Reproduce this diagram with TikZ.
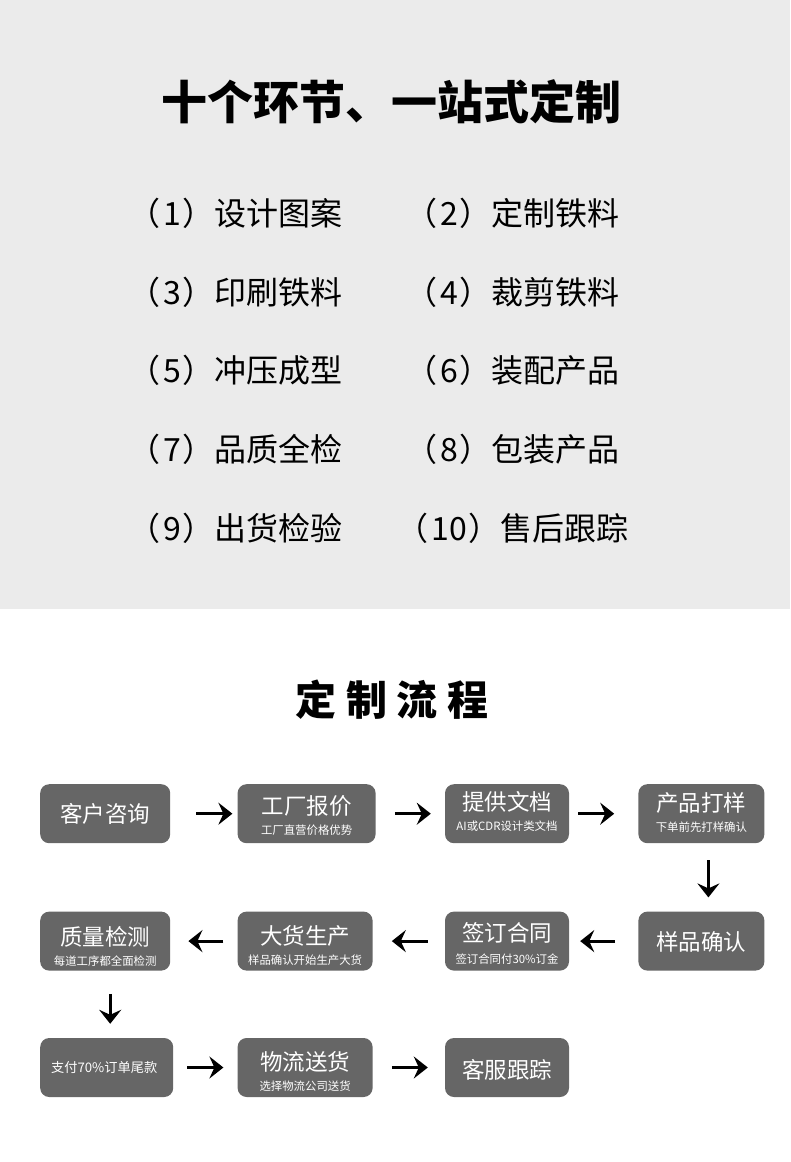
\documentclass[tikz,border=0pt]{standalone}
\usepackage{fontspec}
\setmainfont{Noto Sans CJK SC}
\usepackage{xcolor}
\usetikzlibrary{positioning, arrows.meta}
\definecolor{bandgray}{HTML}{EBEBEB}
\definecolor{boxgray}{HTML}{666666}
\newcommand{\subsize}{\fontsize{11.4}{14}\selectfont}
\newcommand{\stepno}[1]{（\kern3pt #1\kern1.5pt）}
\tikzset{
    flowbox/.style={draw=none, fill=boxgray, text=white, rounded corners=9pt, inner sep=0pt, minimum height=59pt, align=center, font=\fontsize{22.5}{20}\selectfont},
    textdrop/.style={text height=#1, text depth=0pt},
    flowarrow/.style={line width=3.2pt, -{Stealth[length=14pt, width=22pt, inset=5pt]}},
    listitem/.style={inner sep=0pt, minimum height=32pt, font=\fontsize{32}{32}\selectfont},
    headline/.style={inner sep=0pt, font=\bfseries\fontsize{46}{46}\selectfont}
}
\begin{document}
\begin{tikzpicture}[x=1pt, y=1pt]

    \useasboundingbox (0,0) rectangle (790,-1162);

    % Gray band at the top
    \fill[bandgray] (0,0) rectangle (790,-609);

    \node[headline] (title) at (391,-102) {十个环节、一站式定制};

    % Ten steps in two columns
    \node[listitem, anchor=west] (item1) at (128,-213.5) {\stepno{1}设计图案};
    \node[listitem, right=62.2pt of item1] (item2) {\stepno{2}定制铁料};
    \node[listitem, below=46.2pt of item1] (item3) {\stepno{3}印刷铁料};
    \node[listitem, right=62.2pt of item3] (item4) {\stepno{4}裁剪铁料};
    \node[listitem, below=46.2pt of item3] (item5) {\stepno{5}冲压成型};
    \node[listitem, right=62.2pt of item5] (item6) {\stepno{6}装配产品};
    \node[listitem, below=46.2pt of item5] (item7) {\stepno{7}品质全检};
    \node[listitem, right=62.2pt of item7] (item8) {\stepno{8}包装产品};
    \node[listitem, below=46.2pt of item7] (item9) {\stepno{9}出货检验};
    \node[listitem, right=54pt of item9] (item10) {\stepno{10}售后跟踪};

    \node[headline, font=\bfseries\fontsize{41}{41}\selectfont] (flowtitle) at (392,-700) {定 制 流 程};

    % First row, left to right
    \node[flowbox, textdrop=18pt, minimum width=130pt, anchor=north west] (kehu) at (40,-784) {客户咨询};
    \node[flowbox, textdrop=42pt, minimum width=138pt, right=67pt of kehu] (baojia) {工厂报价\\{\subsize 工厂直营价格优势}};
    \node[flowbox, textdrop=34pt, minimum width=124pt, right=69pt of baojia] (wendang) {提供文档\\{\subsize AI或CDR设计类文档}};
    \node[flowbox, textdrop=36pt, minimum width=126pt, right=69pt of wendang] (dayang) {产品打样\\{\subsize 下单前先打样确认}};

    % Second row, read right to left
    \node[flowbox, textdrop=48pt, minimum width=130pt, below=68pt of kehu] (zhiliang) {质量检测\\{\subsize 每道工序都全面检测}};
    \node[flowbox, textdrop=46pt, minimum width=135pt, right=67pt of zhiliang] (dahuo) {大货生产\\{\subsize 样品确认开始生产大货}};
    \node[flowbox, textdrop=44pt, minimum width=124pt, right=72pt of dahuo] (qianding) {签订合同\\[2pt]{\subsize 签订合同付30\%订金}};
    \node[flowbox, textdrop=18pt, minimum width=126pt, right=69pt of qianding] (queren) {样品确认};

    % Third row
    \node[flowbox, minimum width=133pt, below=67pt of zhiliang.south west, anchor=north west, font=\fontsize{13.2}{14}\selectfont] (weikuan) {\hspace*{-5pt}支付70\%订单尾款};
    \node[flowbox, textdrop=46pt, minimum width=135pt, right=64pt of weikuan] (wuliu) {物流送货\\{\subsize 选择物流公司送货}};
    \node[flowbox, textdrop=22pt, minimum width=124pt, right=72pt of wuliu] (kefu) {客服跟踪};

    % Arrows connecting the boxes
    \draw[flowarrow, shorten <=26pt, shorten >=5pt] (kehu) -- (baojia);
    \draw[flowarrow, shorten <=19pt, shorten >=14pt] (baojia) -- (wendang);
    \draw[flowarrow, shorten <=9pt, shorten >=24pt] (wendang) -- (dayang);
    \draw[flowarrow, shorten <=17pt, shorten >=14pt] ([xshift=7pt]dayang.south) -- ([xshift=7pt]queren.north);
    \draw[flowarrow, shorten <=23pt, shorten >=11pt] (queren) -- (qianding);
    \draw[flowarrow, shorten <=17pt, shorten >=19pt] (qianding) -- (dahuo);
    \draw[flowarrow, shorten <=14pt, shorten >=18pt] (dahuo) -- (zhiliang);
    \draw[flowarrow, shorten <=23pt, shorten >=14pt] ([xshift=5pt]zhiliang.south) -- ([xshift=3.5pt]weikuan.north);
    \draw[flowarrow, shorten <=14pt, shorten >=14pt] (weikuan) -- (wuliu);
    \draw[flowarrow, shorten <=19pt, shorten >=17pt] (wuliu) -- (kefu);

\end{tikzpicture}
\end{document}
